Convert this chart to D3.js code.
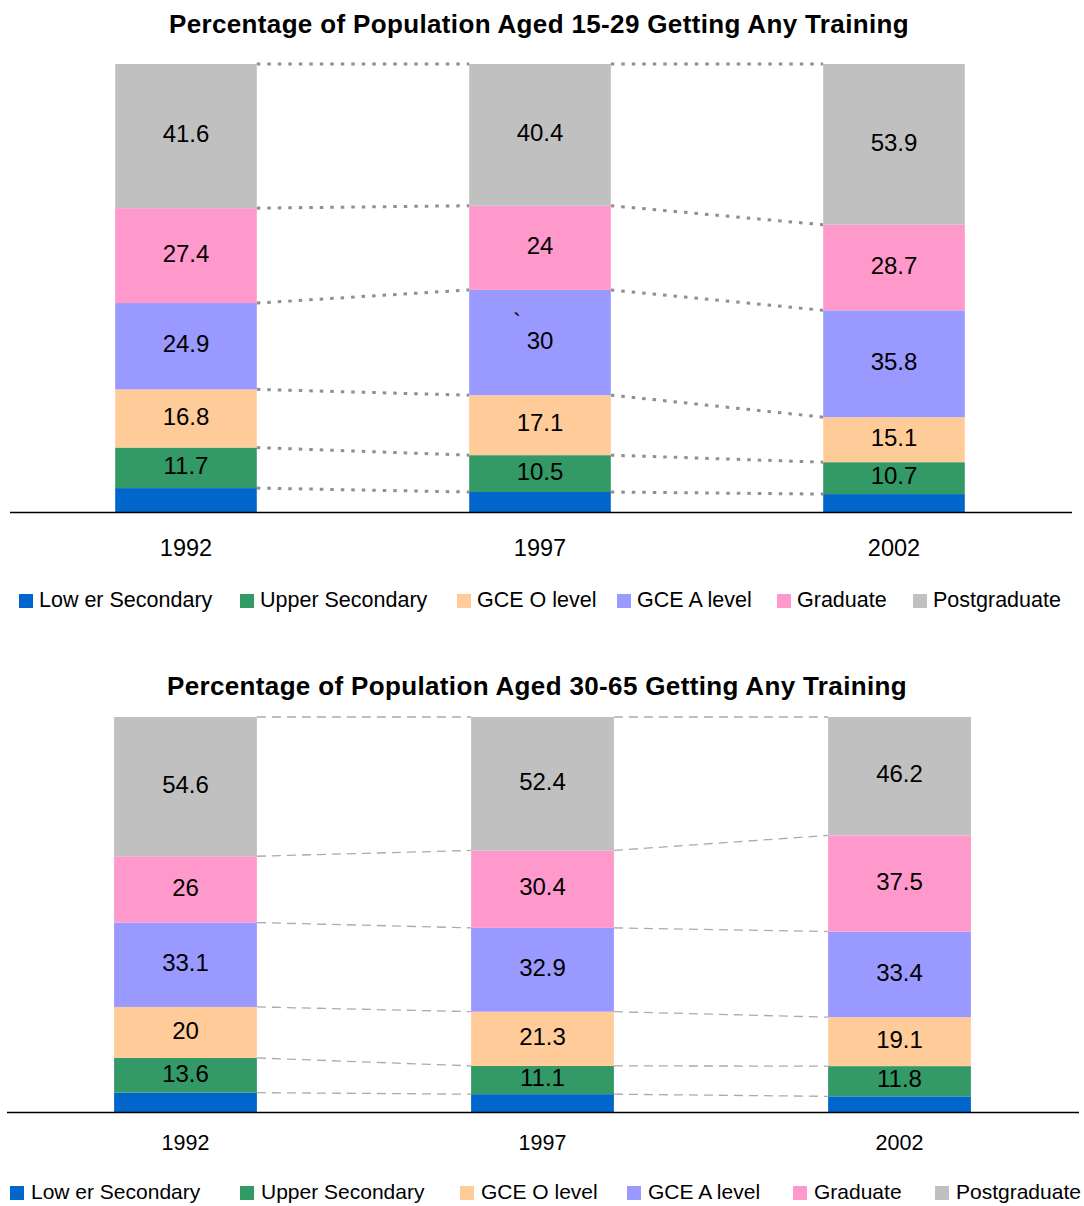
<!DOCTYPE html>
<html>
<head>
<meta charset="utf-8">
<script src="https://cdn.jsdelivr.net/npm/d3@7"></script>
<style>
  body { margin: 0; background: #fff; }
  svg { display: block; }
  text { font-family: "Liberation Sans", Arial, sans-serif; fill: #000; }
</style>
</head>
<body>
<svg id="chart" width="1084" height="1206"></svg>
<script>
// ---- data ----
const years = ["1992", "1997", "2002"];
const levelKeys = ["lower", "upper", "olevel", "alevel", "graduate", "postgrad"];
const levelNames = ["Low er Secondary", "Upper Secondary", "GCE O level", "GCE A level", "Graduate", "Postgraduate"];
const levelColors = ["#0066CC", "#339966", "#FFCC99", "#9999FF", "#FF99CC", "#C0C0C0"];

// Aged 15-29
const young_lower    = [6.9, 5.7, 6.0];
const young_upper    = [11.7, 10.5, 10.7];
const young_olevel   = [16.8, 17.1, 15.1];
const young_alevel   = [24.9, 30, 35.8];
const young_graduate = [27.4, 24, 28.7];
const young_postgrad = [41.6, 40.4, 53.9];

// Aged 30-65
const older_lower    = [7.6, 7.0, 6.1];
const older_upper    = [13.6, 11.1, 11.8];
const older_olevel   = [20, 21.3, 19.1];
const older_alevel   = [33.1, 32.9, 33.4];
const older_graduate = [26, 30.4, 37.5];
const older_postgrad = [54.6, 52.4, 46.2];

// series without a printed value
const unlabeled = ["lower"];

function rowsFrom(series) {
  return years.map((y, i) => {
    const r = { year: y };
    levelKeys.forEach((k, j) => { r[k] = series[j][i]; });
    return r;
  });
}

const svg = d3.select("#chart");

function drawChart(cfg) {
  const rows = rowsFrom(cfg.series);
  const stacked = d3.stack().keys(levelKeys).offset(d3.stackOffsetExpand)(rows);

  const x = d3.scaleBand().domain(years).range(cfg.xRange).paddingInner(0.6).paddingOuter(0.3);
  const y = d3.scaleLinear().domain([0, 1]).range([cfg.bottom, cfg.top]);
  const color = d3.scaleOrdinal().domain(levelKeys).range(levelColors);
  const g = svg.append("g");

  // title
  g.append("text")
    .attr("x", cfg.titleX).attr("y", cfg.titleY)
    .attr("text-anchor", "middle")
    .style("font-size", "26px").style("font-weight", "bold")
    .style("letter-spacing", "0.35px")
    .text(cfg.title);

  // connector lines between neighbouring bars, one per series top edge
  const links = [];
  stacked.forEach(s => {
    for (let i = 0; i < years.length - 1; i++) {
      links.push({ a: s[i], b: s[i + 1], ya: years[i], yb: years[i + 1] });
    }
  });
  g.append("g").selectAll("line").data(links).join("line")
    .attr("x1", d => x(d.ya) + x.bandwidth())
    .attr("x2", d => x(d.yb))
    .attr("y1", d => y(d.a[1]))
    .attr("y2", d => y(d.b[1]))
    .attr("stroke", cfg.linkColor)
    .attr("stroke-width", cfg.linkWidth)
    .attr("stroke-dasharray", cfg.linkDash);

  // stacked bars
  const layer = g.append("g").selectAll("g").data(stacked).join("g")
    .attr("fill", d => color(d.key));
  layer.selectAll("rect").data(d => d).join("rect")
    .attr("x", d => x(d.data.year))
    .attr("width", x.bandwidth())
    .attr("y", d => y(d[1]))
    .attr("height", d => y(d[0]) - y(d[1]));

  // value labels
  const labelLayer = g.append("g").selectAll("g")
    .data(stacked.filter(s => !unlabeled.includes(s.key))).join("g");
  labelLayer.selectAll("text").data(d => d.map(p => ({ p, key: d.key }))).join("text")
    .attr("x", d => x(d.p.data.year) + x.bandwidth() / 2)
    .attr("y", d => (y(d.p[0]) + y(d.p[1])) / 2)
    .attr("dy", "0.26em")
    .attr("text-anchor", "middle")
    .style("font-size", "24px")
    .text(d => d.p.data[d.key]);

  // stray mark beside one label
  if (cfg.stray) {
    const s = stacked.find(t => t.key === cfg.stray.key);
    const p = s[years.indexOf(cfg.stray.year)];
    g.append("text")
      .attr("x", x(cfg.stray.year) + x.bandwidth() / 2 + cfg.stray.dx)
      .attr("y", (y(p[0]) + y(p[1])) / 2 + cfg.stray.dy)
      .style("font-size", "24px")
      .text(cfg.stray.text);
  }

  // category axis
  g.append("line")
    .attr("x1", cfg.axisX[0]).attr("x2", cfg.axisX[1])
    .attr("y1", cfg.bottom + 0.5).attr("y2", cfg.bottom + 0.5)
    .attr("stroke", "#000").attr("stroke-width", 1.3);
  g.append("g").selectAll("text").data(years).join("text")
    .attr("x", d => x(d) + x.bandwidth() / 2)
    .attr("y", cfg.yearY)
    .attr("text-anchor", "middle")
    .style("font-size", cfg.yearSize + "px")
    .text(d => d);

  // legend
  const lg = g.append("g").selectAll("g").data(levelKeys).join("g")
    .attr("transform", (d, i) => `translate(${cfg.legendX[i]},${cfg.legendY})`);
  lg.append("rect").attr("x", 0).attr("y", -13).attr("width", 14).attr("height", 14)
    .attr("fill", d => color(d));
  lg.append("text").attr("x", cfg.legendGap).attr("y", 0)
    .style("font-size", cfg.legendSize + "px")
    .text((d, i) => levelNames[i]);
}

drawChart({
  title: "Percentage of Population Aged 15-29 Getting Any Training",
  series: [young_lower, young_upper, young_olevel, young_alevel, young_graduate, young_postgrad],
  top: 64, bottom: 512,
  xRange: [9, 1071], axisX: [10, 1072],
  titleX: 539, titleY: 33,
  yearY: 556, yearSize: 23.5,
  linkColor: "#8f8f8f", linkWidth: 3, linkDash: "3.5,7",
  legendX: [19, 240, 457, 617, 777, 913], legendY: 607, legendGap: 20, legendSize: 21.5,
  stray: { key: "alevel", year: "1997", text: "`", dx: -27, dy: -13 }
});

drawChart({
  title: "Percentage of Population Aged 30-65 Getting Any Training",
  series: [older_lower, older_upper, older_olevel, older_alevel, older_graduate, older_postgrad],
  top: 717, bottom: 1112,
  xRange: [7, 1078], axisX: [7, 1079],
  titleX: 537, titleY: 695,
  yearY: 1150, yearSize: 21.5,
  linkColor: "#ababab", linkWidth: 1.3, linkDash: "9,6",
  legendX: [10, 240, 460, 627, 793, 935], legendY: 1199, legendGap: 21, legendSize: 21
});
</script>
</body>
</html>
